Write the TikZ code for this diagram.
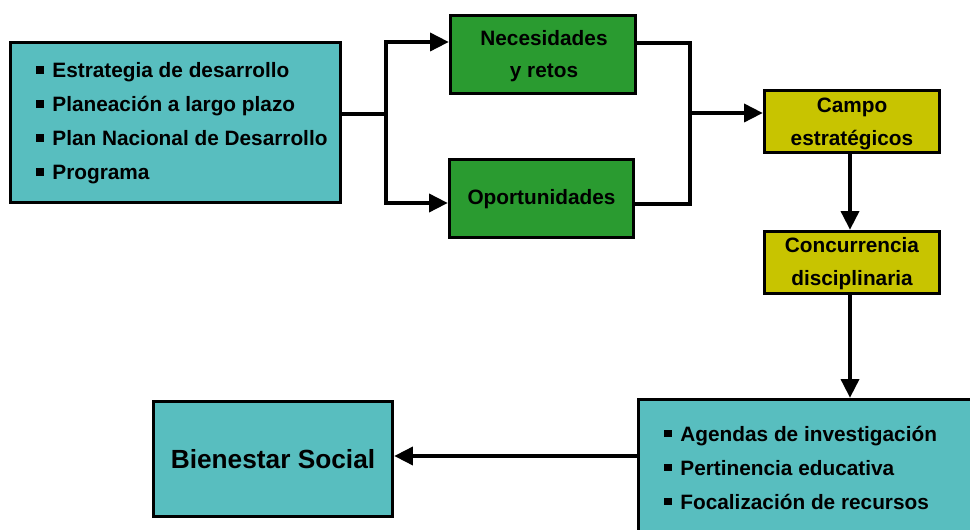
\documentclass[tikz,border=0pt]{standalone}
\usepackage{fontspec}
\setmainfont{Liberation Sans}
\usetikzlibrary{arrows.meta,calc}
\definecolor{tealbox}{RGB}{88,190,191}
\definecolor{greenbox}{RGB}{42,155,48}
\definecolor{olivebox}{RGB}{200,196,0}
\newcommand{\bulsq}{\raisebox{2.8pt}{\rule{5.6pt}{5.6pt}}\hspace{6.5pt}}
\tikzset{
  box/.style={draw=black, line width=2.6pt, rectangle, inner sep=0pt},
  boxtext/.style={font=\bfseries\fontsize{15.6}{24.5}\selectfont, align=center, inner sep=0pt},
  listtext/.style={font=\bfseries\fontsize{15.6}{25.5}\selectfont, align=left, inner sep=0pt, anchor=west},
  conn/.style={line width=2.6pt, draw=black},
  arr/.style={conn, -{Triangle[length=14pt,width=13.5pt]}}
}
\begin{document}
\begin{tikzpicture}[x=0.75pt,y=-0.75pt]
\useasboundingbox (0,0) rectangle (970,530);
\clip (0,0) rectangle (970,530);
% boxes
\node[box, fill=tealbox, minimum width=330*0.75pt, minimum height=160*0.75pt] (L) at (175.5,122.5) {};
\node[box, fill=greenbox, minimum width=185*0.75pt, minimum height=78*0.75pt] (N) at (543,54.5) {};
\node[box, fill=greenbox, minimum width=184*0.75pt, minimum height=78*0.75pt] (O) at (541.5,198.5) {};
\node[box, fill=olivebox, minimum width=175*0.75pt, minimum height=62*0.75pt] (C) at (852,121.5) {};
\node[box, fill=olivebox, minimum width=175*0.75pt, minimum height=62*0.75pt] (D) at (852,262.5) {};
\node[box, fill=tealbox, minimum width=340*0.75pt, minimum height=150*0.75pt] (B) at (808.5,474.5) {};
\node[box, fill=tealbox, minimum width=239*0.75pt, minimum height=115*0.75pt] (S) at (273,459) {};
% texts
\node[listtext] (Lt) at (36,123) {\bulsq Estrategia de desarrollo\\ \bulsq Planeación a largo plazo\\ \bulsq Plan Nacional de Desarrollo\\ \bulsq Programa};
\node[boxtext] (Nt) at (544,56) {Necesidades\\ y retos};
\node[boxtext] (Ot) at (541.5,199.5) {Oportunidades};
\node[boxtext] (Ct) at (852,124) {Campo\\ estratégicos};
\node[boxtext] (Dt) at (852,263.5) {Concurrencia\\ disciplinaria};
\node[listtext] (Bt) at (664,467.5) {\bulsq Agendas de investigación\\ \bulsq Pertinencia educativa\\ \bulsq Focalización de recursos};
\node[font=\bfseries\fontsize{19.7}{24}\selectfont, inner sep=0pt] (St) at (273,459.5) {Bienestar Social};
% connectors
\coordinate (j1) at (386,114);
\coordinate (ja) at (386,42);
\coordinate (jb) at (386,203);
\draw[conn] (j1 -| L.east) -- (j1);
\draw[arr] (j1) -- (ja) -- (ja -| N.west);
\draw[arr] (j1) -- (jb) -- (jb -| O.west);
\coordinate (k1) at (690,113);
\coordinate (ka) at (690,43);
\coordinate (kb) at (690,204);
\draw[conn] (ka -| N.east) -- (ka) -- (kb) -- (kb -| O.east);
\draw[arr] (k1) -- (k1 -| C.west);
\coordinate (m1) at (850,0);
\draw[arr] (m1 |- C.south) -- (m1 |- D.north);
\draw[arr] (m1 |- D.south) -- (m1 |- B.north);
\coordinate (n1) at (0,456);
\draw[arr] (n1 -| B.west) -- (n1 -| S.east);
\end{tikzpicture}
\end{document}
